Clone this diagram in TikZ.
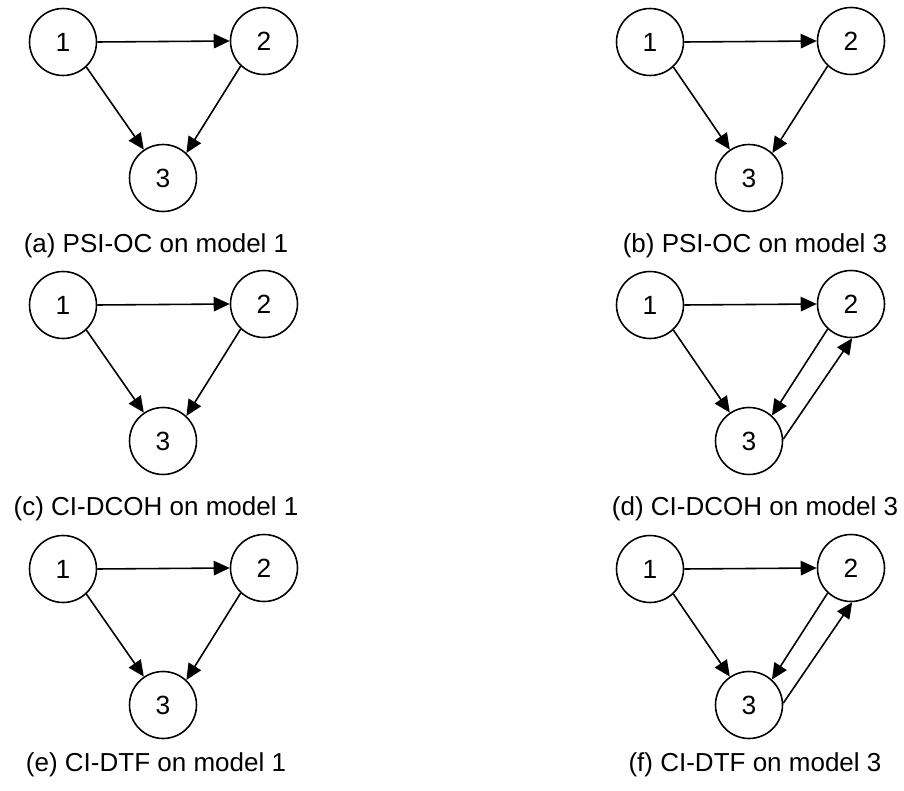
\documentclass[tikz,border=0pt]{standalone}
\usepackage{fontspec}
\setmainfont{Liberation Sans}
\usetikzlibrary{arrows.meta}
\begin{document}
\begin{tikzpicture}[x=0.02cm,y=-0.02cm,
  vtx/.style={circle,draw,line width=0.9pt,minimum size=1.34cm,inner sep=0pt,font=\fontsize{15}{17}\selectfont},
  arr/.style={line width=0.9pt,-{Triangle[length=0.32cm,width=0.29cm]}},
  captext/.style={font=\fontsize{14.8}{17}\selectfont,inner sep=0pt}]
\useasboundingbox (0,0) rectangle (904,791);
% (a)
\node[vtx] (a1) at (63,42) {1};
\node[vtx] (a2) at (264,41) {2};
\node[vtx] (a3) at (163,178) {3};
\draw[arr] (a1.east) -- (a2.west);
\draw[arr] (a1.-47) -- (a3.124);
\draw[arr] (a2.-133) -- (a3.47);
\node[captext] (la) at (156,246) {(a) PSI-OC on model 1};
% (b)
\node[vtx] (b1) at (650,42) {1};
\node[vtx] (b2) at (851,41) {2};
\node[vtx] (b3) at (749,178) {3};
\draw[arr] (b1.east) -- (b2.west);
\draw[arr] (b1.-47) -- (b3.124);
\draw[arr] (b2.-133) -- (b3.47);
\node[captext] (lb) at (755,246) {(b) PSI-OC on model 3};
% (c)
\node[vtx] (c1) at (63,305) {1};
\node[vtx] (c2) at (264,304) {2};
\node[vtx] (c3) at (163,441) {3};
\draw[arr] (c1.east) -- (c2.west);
\draw[arr] (c1.-47) -- (c3.124);
\draw[arr] (c2.-133) -- (c3.47);
\node[captext] (lc) at (156,509) {(c) CI-DCOH on model 1};
% (d)
\node[vtx] (d1) at (650,305) {1};
\node[vtx] (d2) at (851,304) {2};
\node[vtx] (d3) at (749,441) {3};
\draw[arr] (d1.east) -- (d2.west);
\draw[arr] (d1.-47) -- (d3.124);
\draw[arr] (d2.-133) -- (d3.48);
\draw[arr] (d3.3) -- (d2.-88);
\node[captext] (ld) at (755,509) {(d) CI-DCOH on model 3};
% (e)
\node[vtx] (e1) at (63,569) {1};
\node[vtx] (e2) at (264,568) {2};
\node[vtx] (e3) at (163,705) {3};
\draw[arr] (e1.east) -- (e2.west);
\draw[arr] (e1.-47) -- (e3.124);
\draw[arr] (e2.-133) -- (e3.47);
\node[captext] (le) at (156,765) {(e) CI-DTF on model 1};
% (f)
\node[vtx] (f1) at (650,569) {1};
\node[vtx] (f2) at (851,568) {2};
\node[vtx] (f3) at (749,705) {3};
\draw[arr] (f1.east) -- (f2.west);
\draw[arr] (f1.-47) -- (f3.124);
\draw[arr] (f2.-133) -- (f3.48);
\draw[arr] (f3.3) -- (f2.-88);
\node[captext] (lf) at (755,765) {(f) CI-DTF on model 3};
\end{tikzpicture}
\end{document}
